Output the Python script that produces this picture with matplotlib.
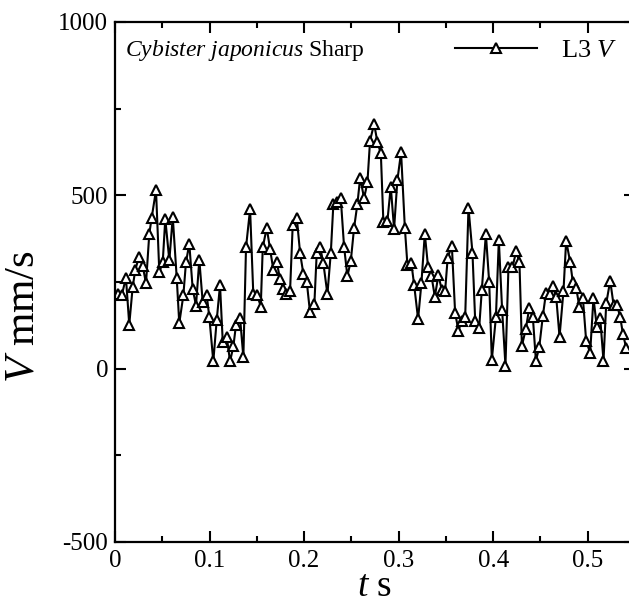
import matplotlib
matplotlib.use("Agg")
import matplotlib.pyplot as plt
from matplotlib.ticker import MultipleLocator

plt.rcParams['font.family'] = ['Liberation Serif', 'DejaVu Serif']
plt.rcParams['mathtext.fontset'] = 'custom'
plt.rcParams['mathtext.rm'] = 'Liberation Serif'
plt.rcParams['mathtext.it'] = 'Liberation Serif:italic'
plt.rcParams['axes.unicode_minus'] = False

# time (s) and velocity (mm/s)
t = [0.0035, 0.0071, 0.0116, 0.0151, 0.0187, 0.0215, 0.0254, 0.0293, 0.0328, 0.0363,
     0.0388, 0.0434, 0.0469, 0.0505, 0.0532, 0.0575, 0.0611, 0.0653, 0.0680, 0.0723,
     0.0751, 0.0786, 0.0822, 0.0857, 0.0892, 0.0928, 0.0970, 0.0998, 0.1040, 0.1076,
     0.1111, 0.1140, 0.1182, 0.1217, 0.1252, 0.1280, 0.1323, 0.1358, 0.1386, 0.1429,
     0.1463, 0.1506, 0.1542, 0.1563, 0.1605, 0.1640, 0.1675, 0.1711, 0.1746, 0.1781,
     0.1810, 0.1852, 0.1880, 0.1923, 0.1958, 0.1993, 0.2029, 0.2063, 0.2109, 0.2134,
     0.2169, 0.2204, 0.2247, 0.2283, 0.2310, 0.2346, 0.2388, 0.2423, 0.2458, 0.2494,
     0.2529, 0.2564, 0.2593, 0.2635, 0.2670, 0.2698, 0.2741, 0.2776, 0.2812, 0.2839,
     0.2881, 0.2917, 0.2952, 0.2987, 0.3026, 0.3066, 0.3093, 0.3135, 0.3164, 0.3206,
     0.3241, 0.3277, 0.3312, 0.3347, 0.3383, 0.3421, 0.3457, 0.3492, 0.3519, 0.3563,
     0.3598, 0.3633, 0.3669, 0.3704, 0.3739, 0.3781, 0.3810, 0.3852, 0.3880, 0.3923,
     0.3958, 0.3986, 0.4029, 0.4060, 0.4095, 0.4130, 0.4162, 0.4204, 0.4243, 0.4278,
     0.4304, 0.4346, 0.4381, 0.4420, 0.4452, 0.4487, 0.4526, 0.4558, 0.4596, 0.4632,
     0.4667, 0.4702, 0.4744, 0.4772, 0.4815, 0.4843, 0.4878, 0.4913, 0.4949, 0.4984,
     0.5026, 0.5061, 0.5097, 0.5132, 0.5167, 0.5196, 0.5238, 0.5273, 0.5309, 0.5344,
     0.5373, 0.5407]
v = [215, 211, 262, 127, 235, 285, 323, 297, 246, 389,
     435, 515, 278, 307, 432, 312, 438, 262, 131, 211,
     307, 360, 230, 182, 314, 191, 213, 148, 21, 140,
     241, 77, 92, 21, 64, 126, 146, 33, 350, 460,
     215, 211, 179, 350, 406, 345, 285, 307, 259, 230,
     215, 225, 415, 435, 333, 273, 249, 162, 187, 335,
     352, 304, 215, 335, 475, 480, 492, 352, 267, 310,
     406, 475, 550, 492, 537, 658, 706, 653, 621, 422,
     425, 525, 403, 544, 624, 406, 300, 304, 242, 143,
     246, 389, 292, 268, 208, 269, 227, 225, 319, 355,
     160, 110, 138, 148, 464, 335, 138, 117, 227, 389,
     249, 26, 148, 371, 169, 9, 294, 292, 338, 307,
     66, 115, 174, 148, 23, 61, 153, 217, 215, 237,
     206, 92, 225, 369, 307, 249, 233, 177, 204, 79,
     46, 204, 119, 146, 23, 188, 254, 185, 185, 148,
     100, 60]

fig = plt.figure(figsize=[6.29, 6.10], dpi=100)
ax = fig.add_axes([0.1828, 0.1115, 0.8267, 0.8525])

ax.plot(t, v, color="black", linewidth=1.5, marker="^", markersize=7.5,
        markerfacecolor="white", markeredgecolor="black", markeredgewidth=1.5,
        label=r"L3 $\mathit{V}$")

ax.set_xlim(0, 0.55)
ax.set_ylim(-500, 1000)
ax.xaxis.set_minor_locator(MultipleLocator(0.05))
ax.yaxis.set_major_locator(MultipleLocator(500))
ax.yaxis.set_minor_locator(MultipleLocator(250))
ax.set_xticks([0, 0.1, 0.2, 0.3, 0.4, 0.5])
ax.set_xticklabels(["0", "0.1", "0.2", "0.3", "0.4", "0.5"])

ax.tick_params(which="both", direction="in", top=True, right=True, width=1.5,
               labelsize=18)
ax.tick_params(which="major", length=8)
ax.tick_params(which="minor", length=4)
ax.tick_params(axis="x", pad=6)
ax.tick_params(axis="y", pad=5)
for s in ax.spines.values():
    s.set_linewidth(1.6)

ax.set_xlabel(r"$\mathit{t}$ s", fontsize=27, labelpad=-2)
ax.set_ylabel(r"$\mathit{V}$ mm/s", fontsize=31)
ax.yaxis.set_label_coords(-0.14, 0.433)

ax.text(0.019, 0.946, r"$\mathit{Cybister\ japonicus}$ Sharp", transform=ax.transAxes,
        fontsize=17, ha="left", va="center")
ax.legend(loc="center left", bbox_to_anchor=(0.654, 0.946), frameon=False,
          fontsize=19, handlelength=3.1, handletextpad=0.9, borderpad=0,
          borderaxespad=0)

fig.savefig("out.png", dpi=100)
